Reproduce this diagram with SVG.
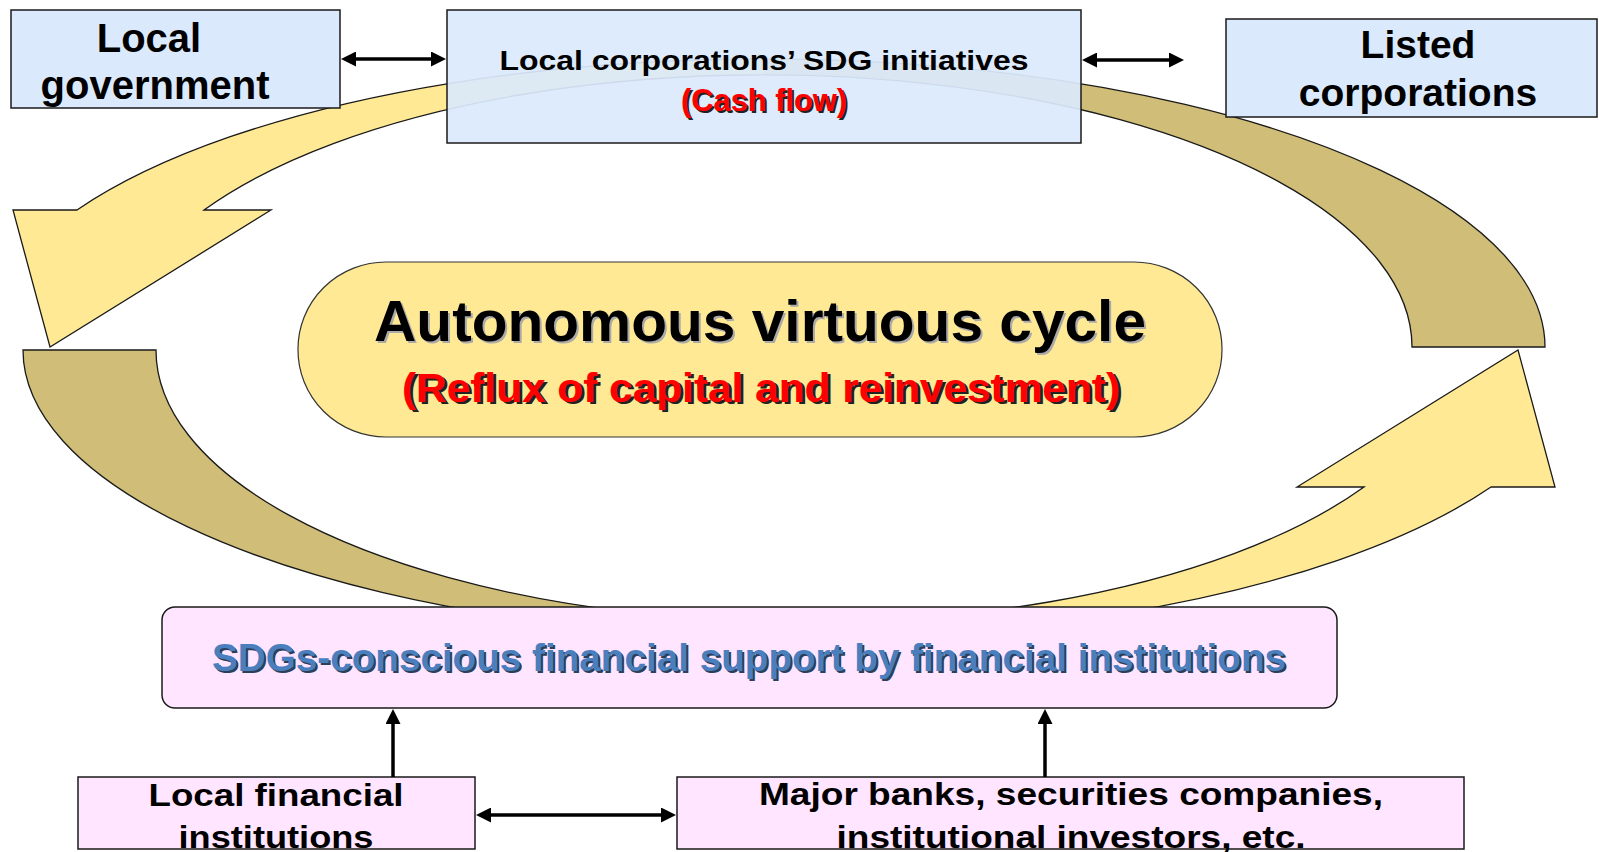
<svg xmlns="http://www.w3.org/2000/svg" xmlns:xlink="http://www.w3.org/1999/xlink" width="1599" height="852" viewBox="0 0 1599 852">
<style>
.box{stroke:#1a1a1a;stroke-width:1.5}
.blue{fill:#DAEAFC}
.pink{fill:#FFE5FF}
.t{font-family:"Liberation Sans",Arial,sans-serif;font-weight:bold;text-anchor:middle}
.blk{fill:#000}
.red{fill:#FF0000}
.shd{fill:#222}
.conn{stroke:#000;stroke-width:3.5;fill:none}
.yel{fill:#FFE994}
.kha{fill:#CFBD78}
.outl{fill:none;stroke:#1a1a1a;stroke-width:1.3;stroke-linejoin:miter}
</style>
<defs>
<marker id="ah" viewBox="0 0 15 15" markerWidth="15" markerHeight="15" refX="3" refY="7.5" orient="auto-start-reverse" markerUnits="userSpaceOnUse">
<path d="M0,0 L15,7.5 L0,15 Z" fill="#000"/>
</marker>
<path id="arrowFull" d="M1545,347 A781,288 0 0 0 77,210 L13,210 L50,347 L271,210 L204,210 A648,272 0 0 1 1412,347 Z"/>
<path id="arrowBack" d="M1545,347 A781,288 0 0 0 764,59 L764,75 A648,272 0 0 1 1412,347 Z"/>
<g id="cycleArrow">
<use xlink:href="#arrowFull" class="yel"/>
<use xlink:href="#arrowBack" class="kha"/>
<use xlink:href="#arrowFull" class="outl"/>
</g>
</defs>

<g id="cycle-arrows">
<use id="arrow-top" xlink:href="#cycleArrow"/>
<use id="arrow-bottom" xlink:href="#cycleArrow" transform="rotate(180 784 348.5)"/>
</g>

<g id="local-government">
<rect class="box blue" x="11" y="10" width="329" height="98"/>
<text class="t blk" x="149" y="52" font-size="40">Local</text>
<text class="t blk" x="155" y="99" font-size="40">government</text>
</g>

<g id="local-corporations">
<rect class="box" x="447" y="10" width="634" height="133" fill="#DAEAFC" fill-opacity="0.93"/>
<text class="t blk" x="764" y="70" font-size="28" textLength="529" lengthAdjust="spacingAndGlyphs">Local corporations’ SDG initiatives</text>
<text class="t shd" x="766" y="113" font-size="31" textLength="166" lengthAdjust="spacingAndGlyphs">(Cash flow)</text>
<text class="t red" x="764" y="111" font-size="31" textLength="166" lengthAdjust="spacingAndGlyphs">(Cash flow)</text>
</g>

<g id="listed-corporations">
<rect class="box blue" x="1226" y="19" width="371" height="98"/>
<text class="t blk" x="1418" y="58" font-size="39">Listed</text>
<text class="t blk" x="1418" y="106" font-size="39">corporations</text>
</g>

<g id="autonomous-cycle">
<rect x="298" y="262" width="924" height="175" rx="88" ry="87" fill="#FFE994" stroke="#333" stroke-width="1.2"/>
<text class="t" fill="#aaa" x="762" y="343" font-size="58" textLength="772" lengthAdjust="spacingAndGlyphs">Autonomous virtuous cycle</text>
<text class="t blk" x="760" y="341" font-size="58" textLength="772" lengthAdjust="spacingAndGlyphs">Autonomous virtuous cycle</text>
<text class="t shd" x="764" y="404" font-size="40" textLength="718" lengthAdjust="spacingAndGlyphs">(Reflux of capital and reinvestment)</text>
<text class="t red" x="761" y="402" font-size="40" textLength="718" lengthAdjust="spacingAndGlyphs">(Reflux of capital and reinvestment)</text>
</g>

<g id="financial-support">
<rect class="box pink" x="162" y="607" width="1175" height="101" rx="13" ry="13"/>
<text class="t" fill="#2B3F5A" x="751" y="673" font-size="39" textLength="1074" lengthAdjust="spacingAndGlyphs">SDGs-conscious financial support by financial institutions</text>
<text class="t" fill="#4A7EBD" x="749" y="671" font-size="39" textLength="1074" lengthAdjust="spacingAndGlyphs">SDGs-conscious financial support by financial institutions</text>
</g>

<g id="local-financial-institutions">
<rect class="box pink" x="78" y="777" width="397" height="72"/>
<text class="t blk" x="276" y="806" font-size="31" textLength="255" lengthAdjust="spacingAndGlyphs">Local financial</text>
<text class="t blk" x="276" y="848" font-size="31" textLength="195" lengthAdjust="spacingAndGlyphs">institutions</text>
</g>

<g id="major-banks">
<rect class="box pink" x="677" y="777" width="787" height="72"/>
<text class="t blk" x="1071" y="805" font-size="32" textLength="624" lengthAdjust="spacingAndGlyphs">Major banks, securities companies,</text>
<text class="t blk" x="1071" y="848" font-size="32" textLength="469" lengthAdjust="spacingAndGlyphs">institutional investors, etc.</text>
</g>

<g id="connectors">
<line class="conn" x1="353" y1="59" x2="434" y2="59" marker-start="url(#ah)" marker-end="url(#ah)"/>
<line class="conn" x1="1094" y1="60" x2="1172" y2="60" marker-start="url(#ah)" marker-end="url(#ah)"/>
<line class="conn" x1="488" y1="815" x2="664" y2="815" marker-start="url(#ah)" marker-end="url(#ah)"/>
<line class="conn" x1="393" y1="777" x2="393" y2="721" marker-end="url(#ah)"/>
<line class="conn" x1="1045" y1="777" x2="1045" y2="721" marker-end="url(#ah)"/>
</g>
</svg>
